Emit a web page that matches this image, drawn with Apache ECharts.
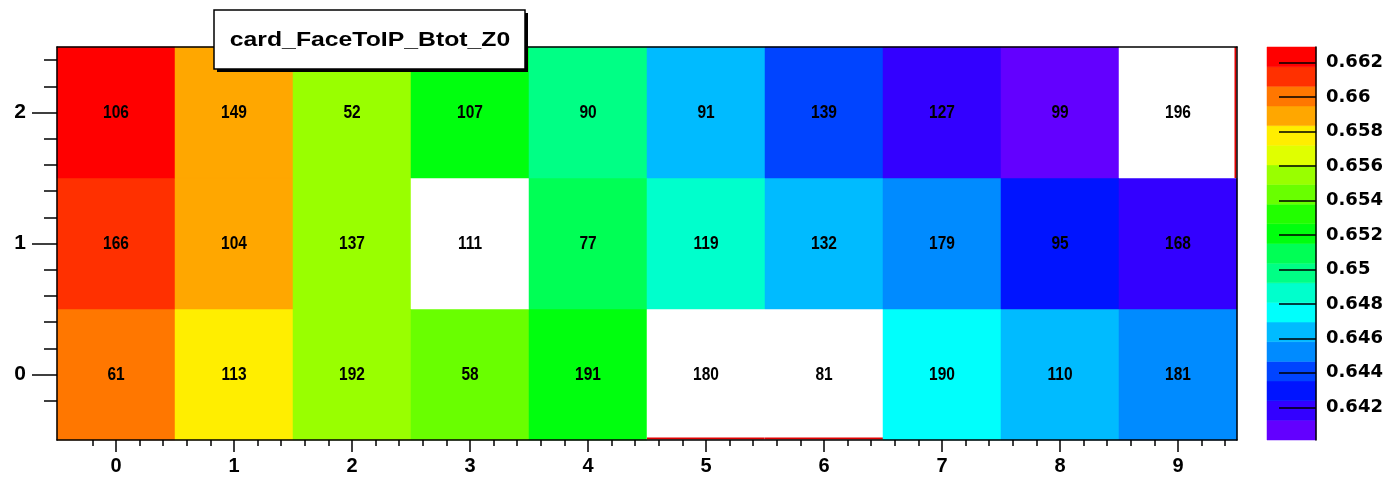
<!DOCTYPE html>
<html>
<head>
<meta charset="utf-8">
<script src="https://cdn.jsdelivr.net/npm/echarts@6/dist/echarts.min.js"></script>
<style>
html,body{margin:0;padding:0;background:#fff;}
#chart{width:1388px;height:477px;}
</style>
</head>
<body>
<div id="chart"></div>
<script>
// ---------------- data ----------------
const xBins = [0, 1, 2, 3, 4, 5, 6, 7, 8, 9];
const yBins = [0, 1, 2];
// z values (colour), null = empty bin (not painted)
const zRow0 = [0.6601, 0.6578, 0.6555, 0.6544, 0.6521, null, null, 0.6475, 0.6464, 0.6452];
const zRow1 = [0.6612, 0.6589, 0.6555, null, 0.6509, 0.6486, 0.6464, 0.6452, 0.6430, 0.6418];
const zRow2 = [0.6628, 0.6589, 0.6555, 0.6524, 0.6498, 0.6464, 0.6441, 0.6418, 0.6402, null];
// text drawn in each cell
const labelRow0 = [61, 113, 192, 58, 191, 180, 81, 190, 110, 181];
const labelRow1 = [166, 104, 137, 111, 77, 119, 132, 179, 95, 168];
const labelRow2 = [106, 149, 52, 107, 90, 91, 139, 127, 99, 196];
// colour scale
const zMin = 0.64010;
const zMax = 0.66291;
const paletteColors = [
  '#6300FF', '#3300FF', '#0014FF', '#0044FF', '#008BFF',
  '#00BBFF', '#00FFFC', '#00FFCC', '#00FF85', '#00FF55',
  '#00FF0E', '#22FF00', '#69FF00', '#99FF00', '#E0FF00',
  '#FFEE00', '#FFA700', '#FF7700', '#FF3000', '#FF0000'
];
const colorBarTicks = [0.642, 0.644, 0.646, 0.648, 0.650, 0.652, 0.654, 0.656, 0.658, 0.660, 0.662];
const titleText = 'card_FaceToIP_Btot_Z0';

// ---------------- build ----------------
const zRows = [zRow0, zRow1, zRow2];
const labelRows = [labelRow0, labelRow1, labelRow2];
const cellData = [];
yBins.forEach((y, j) => {
  xBins.forEach((x, i) => {
    const z = zRows[j][i];
    cellData.push([x, y, z === null ? '-' : z, labelRows[j][i]]);
  });
});

const nLevels = paletteColors.length;
const step = (zMax - zMin) / nLevels;
const bandData = [];
const pieces = [];
for (let k = 0; k < nLevels; k++) {
  const lo = zMin + k * step, hi = zMin + (k + 1) * step;
  bandData.push([lo, hi, k]);
  pieces.push({ gte: lo, lt: hi, color: paletteColors[k] });
}

const xMin = xBins[0] - 0.5, xMax = xBins[xBins.length - 1] + 0.5;
const yMin = yBins[0] - 0.5, yMax = yBins[yBins.length - 1] + 0.5;
const xMinor = [], yMinor = [];
for (let v = Math.round(xMin * 5) + 1; v < Math.round(xMax * 5); v++) xMinor.push(+(v / 5).toFixed(2));
for (let v = Math.round(yMin * 5) + 1; v < Math.round(yMax * 5); v++) yMinor.push(+(v / 5).toFixed(2));

const FONT = '"Liberation Sans", Arial, Helvetica, sans-serif';
const lineStyle = { color: '#000', width: 1.5 };

function renderCell(params, api) {
  const x = api.value(0), y = api.value(1), z = api.value(2), lab = api.value(3);
  const tl = api.coord([x - 0.5, y + 0.5]);
  const br = api.coord([x + 0.5, y - 0.5]);
  const empty = isNaN(z);
  const fill = empty ? '#ffffff' : api.visual('color');
  const children = [{
    type: 'rect',
    shape: { x: tl[0], y: tl[1], width: br[0] - tl[0], height: br[1] - tl[1] },
    style: { fill: fill, stroke: fill, lineWidth: 0.5 }
  }];
  if (empty) {
    if (y - 0.5 <= yMin) {
      children.push({ type: 'line', shape: { x1: tl[0], y1: br[1] - 1.5, x2: br[0], y2: br[1] - 1.5 },
        style: { stroke: '#e00000', lineWidth: 2 } });
    }
    if (x + 0.5 >= xMax) {
      children.push({ type: 'line', shape: { x1: br[0] - 1.5, y1: tl[1], x2: br[0] - 1.5, y2: br[1] },
        style: { stroke: '#e00000', lineWidth: 2 } });
    }
  }
  children.push({
    type: 'text',
    x: (tl[0] + br[0]) / 2,
    y: (tl[1] + br[1]) / 2,
    scaleY: 1.18,
    style: { text: String(lab), fill: '#000', font: 'bold 15.5px ' + FONT, align: 'center', verticalAlign: 'middle' }
  });
  return { type: 'group', children: children };
}

function renderBand(params, api) {
  const lo = api.value(0), hi = api.value(1), k = api.value(2);
  const tl = api.coord([0, hi]);
  const br = api.coord([1, lo]);
  const c = paletteColors[k];
  return {
    type: 'rect',
    shape: { x: tl[0], y: tl[1], width: br[0] - tl[0], height: br[1] - tl[1] },
    style: { fill: c, stroke: c, lineWidth: 0.5 }
  };
}

const chart = echarts.init(document.getElementById('chart'), null, { renderer: 'canvas' });
chart.setOption({
  animation: false,
  backgroundColor: '#ffffff',
  grid: [
    { left: 57, right: 151, top: 47, bottom: 37 },
    { left: 1267, right: 72, top: 47, bottom: 37 }
  ],
  xAxis: [
    { gridIndex: 0, type: 'value', min: xMin, max: xMax, position: 'bottom', z: 5,
      axisLine: { show: true, onZero: false, lineStyle: lineStyle },
      axisTick: { show: true, inside: false, length: 12, customValues: xBins, lineStyle: lineStyle },
      axisLabel: { show: true, customValues: xBins, margin: 16, color: '#000', fontSize: 20, fontWeight: 'bold', fontFamily: FONT,
        formatter: v => String(Math.round(v)) },
      splitLine: { show: false } },
    { gridIndex: 0, type: 'value', min: xMin, max: xMax, position: 'bottom', z: 5,
      axisLine: { show: false, onZero: false },
      axisTick: { show: true, inside: false, length: 6, customValues: xMinor, lineStyle: lineStyle },
      axisLabel: { show: false }, splitLine: { show: false } },
    { gridIndex: 0, type: 'value', min: xMin, max: xMax, position: 'top', z: 5,
      axisLine: { show: true, onZero: false, lineStyle: lineStyle },
      axisTick: { show: false }, axisLabel: { show: false }, splitLine: { show: false } },
    { gridIndex: 1, type: 'value', min: 0, max: 1, show: false }
  ],
  yAxis: [
    { gridIndex: 0, type: 'value', min: yMin, max: yMax, position: 'left', z: 5,
      axisLine: { show: true, onZero: false, lineStyle: lineStyle },
      axisTick: { show: true, inside: false, length: 25, customValues: yBins, lineStyle: lineStyle },
      axisLabel: { show: true, customValues: yBins, margin: 31, color: '#000', fontSize: 21, fontWeight: 'bold', fontFamily: FONT,
        formatter: v => String(Math.round(v)) },
      splitLine: { show: false } },
    { gridIndex: 0, type: 'value', min: yMin, max: yMax, position: 'left', z: 5,
      axisLine: { show: false, onZero: false },
      axisTick: { show: true, inside: false, length: 13, customValues: yMinor, lineStyle: lineStyle },
      axisLabel: { show: false }, splitLine: { show: false } },
    { gridIndex: 0, type: 'value', min: yMin, max: yMax, position: 'right', z: 5,
      axisLine: { show: true, onZero: false, lineStyle: lineStyle },
      axisTick: { show: false }, axisLabel: { show: false }, splitLine: { show: false } },
    { gridIndex: 1, type: 'value', min: zMin, max: zMax, position: 'right', z: 5,
      axisLine: { show: true, onZero: false, lineStyle: lineStyle },
      axisTick: { show: true, inside: true, length: 37, customValues: colorBarTicks, lineStyle: lineStyle },
      axisLabel: { show: true, customValues: colorBarTicks, margin: 10, color: '#000', fontSize: 18, fontWeight: 'bold',
        fontFamily: '"DejaVu Sans", sans-serif', formatter: v => String(Number(v.toFixed(3))) },
      splitLine: { show: false } }
  ],
  visualMap: {
    type: 'piecewise', show: false, seriesIndex: 0, dimension: 2,
    pieces: pieces, outOfRange: { color: '#ffffff' }
  },
  series: [
    { type: 'custom', name: 'cells', xAxisIndex: 0, yAxisIndex: 0,
      dimensions: ['x', 'y', 'z', 'label'], encode: { x: 0, y: 1 },
      renderItem: renderCell, data: cellData, z: 2 },
    { type: 'custom', name: 'palette', xAxisIndex: 3, yAxisIndex: 3,
      dimensions: ['lo', 'hi', 'k'], encode: { y: [0, 1] },
      renderItem: renderBand, data: bandData, z: 2 }
  ],
  graphic: [
    { type: 'rect', shape: { x: 217, y: 13, width: 311, height: 59 }, style: { fill: '#000' }, z: 100 },
    { type: 'rect', shape: { x: 214, y: 10, width: 311, height: 59 }, style: { fill: '#fff', stroke: '#000', lineWidth: 1.5 }, z: 101 },
    { type: 'text', x: 370, y: 40, scaleX: 1.18, z: 102,
      style: { text: titleText, fill: '#000', font: 'bold 21px ' + FONT, align: 'center', verticalAlign: 'middle' } }
  ]
});
</script>
</body>
</html>
